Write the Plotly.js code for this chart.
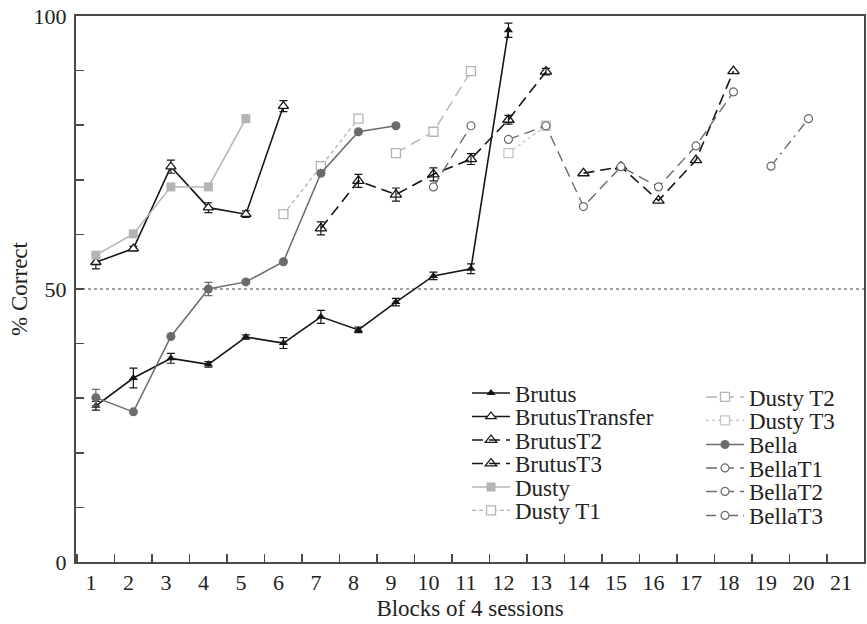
<!DOCTYPE html>
<html>
<head>
<meta charset="utf-8">
<script src="https://cdn.plot.ly/plotly-3.0.1.min.js"></script>
<style>html,body{margin:0;padding:0;background:#fff;}#chart{width:867px;height:624px;}</style>
</head>
<body>
<div id="chart"></div>
<script>
// ---- data ----
var brutusX = [1,2,3,4,5,6,7,8,9,10,11,12];
var brutusY = [28.6,33.7,37.3,36.2,41.2,40.1,44.9,42.5,47.6,52.4,53.7,97.4];
var brutusErr = [0.8,1.8,0.9,0.5,0.4,1.0,1.2,0.5,0.7,0.7,0.9,1.3];

var brutusTransferX = [1,2,3,4,5,6];
var brutusTransferY = [54.9,57.4,72.4,64.9,63.7,83.5];
var brutusTransferErr = [1.2,0.4,1.2,0.9,0.6,1.0];

var brutusT2X = [7,8,9,10,11,12,13];
var brutusT2Y = [61.1,69.8,67.3,71.0,73.8,81.0,89.8];
var brutusT2Err = [1.2,1.2,1.2,1.2,1.0,0.8,0.6];

var brutusT3X = [14,15,16,17,18];
var brutusT3Y = [71.2,72.4,66.2,73.6,89.9];

var dustyX = [1,2,3,4,5];
var dustyY = [56.2,60.1,68.7,68.7,81.2];

var dustyT1X = [6,7,8];
var dustyT1Y = [63.7,72.5,81.2];

var dustyT2X = [9,10,11];
var dustyT2Y = [74.9,78.8,89.9];

var dustyT3X = [12,13];
var dustyT3Y = [74.9,79.9];

var bellaX = [1,2,3,4,5,6,7,8,9];
var bellaY = [30.1,27.5,41.3,50.0,51.3,55.0,71.2,78.8,79.9];
var bellaErr = [1.5,null,null,1.2,null,null,null,null,null];

var bellaT1X = [10,11];
var bellaT1Y = [68.7,79.9];

var bellaT2X = [12,13,14,15,16,17,18];
var bellaT2Y = [77.4,79.9,65.1,72.4,68.7,76.2,86.1];

var bellaT3X = [19,20];
var bellaT3Y = [72.5,81.2];

var xTickVals = [1,2,3,4,5,6,7,8,9,10,11,12,13,14,15,16,17,18,19,20,21];
var xTickText = ["1","2","3","4","5","6","7","8","9","10","11","12","13","14","15","16","17","18","19","20","21"];
var yTickVals = [0,10,20,30,40,50,60,70,80,90,100];
var yTickText = ["0","","","","","50","","","","","100"];
var chanceLevel = 50;

// ---- styling ----
var FONT = "Liberation Serif, Times New Roman, serif";
var BLACK = "#161616", DGRAY = "#6b6b6b", LGRAY = "#b4b4b4", LGRAY2 = "#c4c4c4";

function eb(arr, color) {
  return {type: "data", array: arr, visible: true, color: color, thickness: 1.2, width: 4};
}

var traces = [
  {name: "Brutus", x: brutusX, y: brutusY, error_y: eb(brutusErr, BLACK),
   line: {color: BLACK, width: 1.6}, marker: {symbol: "triangle-up", size: 8, color: BLACK}, legend: "legend"},
  {name: "BrutusTransfer", x: brutusTransferX, y: brutusTransferY, error_y: eb(brutusTransferErr, BLACK),
   line: {color: BLACK, width: 1.6}, marker: {symbol: "triangle-up", size: 9, color: "#fff", line: {color: BLACK, width: 1.3}}, legend: "legend2"},
  {name: "BrutusT2", x: brutusT2X, y: brutusT2Y, error_y: eb(brutusT2Err, BLACK),
   line: {color: BLACK, width: 1.6, dash: "11px,6px"}, marker: {symbol: "triangle-up-open", size: 10, color: BLACK, line: {width: 1.3}}, legend: "legend3"},
  {name: "BrutusT3", x: brutusT3X, y: brutusT3Y,
   line: {color: BLACK, width: 1.6, dash: "11px,6px"}, marker: {symbol: "triangle-up-open", size: 10, color: BLACK, line: {width: 1.3}}, legend: "legend4"},
  {name: "Dusty", x: dustyX, y: dustyY,
   line: {color: LGRAY, width: 1.5}, marker: {symbol: "square", size: 9, color: LGRAY}, legend: "legend5"},
  {name: "Dusty T1", x: dustyT1X, y: dustyT1Y,
   line: {color: LGRAY, width: 1.3, dash: "4px,3px"}, marker: {symbol: "square", size: 9, color: "#fff", line: {color: LGRAY, width: 1.3}}, legend: "legend6"},
  {name: "Dusty T2", x: dustyT2X, y: dustyT2Y,
   line: {color: LGRAY, width: 1.4, dash: "11px,6px"}, marker: {symbol: "square", size: 9, color: "#fff", line: {color: LGRAY, width: 1.3}}, legend: "legend7"},
  {name: "Dusty T3", x: dustyT3X, y: dustyT3Y,
   line: {color: LGRAY2, width: 1.3, dash: "3px,3px"}, marker: {symbol: "square", size: 9, color: "#fff", line: {color: LGRAY2, width: 1.3}}, legend: "legend8"},
  {name: "Bella", x: bellaX, y: bellaY, error_y: eb(bellaErr, DGRAY),
   line: {color: DGRAY, width: 1.5}, marker: {symbol: "circle", size: 9, color: DGRAY}, legend: "legend9"},
  {name: "BellaT1", x: bellaT1X, y: bellaT1Y,
   line: {color: DGRAY, width: 1.4, dash: "11px,6px"}, marker: {symbol: "circle", size: 8, color: "#fff", line: {color: DGRAY, width: 1.2}}, legend: "legend10"},
  {name: "BellaT2", x: bellaT2X, y: bellaT2Y,
   line: {color: DGRAY, width: 1.4, dash: "11px,6px"}, marker: {symbol: "circle", size: 8, color: "#fff", line: {color: DGRAY, width: 1.2}}, legend: "legend11"},
  {name: "BellaT3", x: bellaT3X, y: bellaT3Y,
   line: {color: DGRAY, width: 1.4, dash: "10px,5px,2px,5px"}, marker: {symbol: "circle", size: 8, color: "#fff", line: {color: DGRAY, width: 1.2}}, legend: "legend12"}
];
traces.forEach(function (t) { t.type = "scatter"; t.mode = "lines+markers"; });

var W = 867, H = 624, ML = 76, MR = 3, MT = 16, MB = 62;
var PW = W - ML - MR, PH = H - MT - MB;
function px2x(px) { return (px - ML) / PW; }
function py2y(py) { return (H - MB - py) / PH; }

// legend row positions (pixels)
var col1X = 467, col2X = 701;
var col1Y = [393, 416.5, 440, 463.5, 487, 510.5];
var col2Y = [397, 420.5, 444.5, 468, 491.5, 515.5];

var layout = {
  width: W, height: H,
  margin: {l: ML, r: MR, t: MT, b: MB, pad: 0},
  paper_bgcolor: "#fff", plot_bgcolor: "#fff",
  font: {family: FONT, size: 21, color: "#222"},
  showlegend: true,
  xaxis: {
    range: [0.47, 21.48], showgrid: false, zeroline: false,
    showline: true, linecolor: "#4a4a4a", linewidth: 2, mirror: true,
    tickmode: "array", tickvals: xTickVals, ticktext: xTickText,
    ticks: "inside", ticklen: 0, ticklabelshift: -5,
    tickfont: {family: FONT, size: 22, color: "#222"},
    minor: {tickmode: "linear", tick0: 0.5, dtick: 1, ticks: "inside", ticklen: 8, tickwidth: 1.5, tickcolor: "#4a4a4a", showgrid: false},
    title: {text: "Blocks of 4 sessions", font: {family: FONT, size: 23, color: "#222"}, standoff: 5}
  },
  yaxis: {
    range: [0, 100], showgrid: false, zeroline: false,
    showline: true, linecolor: "#4a4a4a", linewidth: 2, mirror: true,
    tickmode: "array", tickvals: yTickVals, ticktext: yTickText,
    ticks: "inside", ticklen: 8, tickwidth: 1.5, tickcolor: "#4a4a4a",
    ticklabelstandoff: 3,
    tickfont: {family: FONT, size: 22, color: "#222"},
    title: {text: "% Correct", font: {family: FONT, size: 23, color: "#222"}, standoff: 0}
  },
  shapes: [{type: "line", xref: "paper", x0: 0, x1: 1, yref: "y", y0: chanceLevel, y1: chanceLevel,
            line: {color: "#444", width: 1.2, dash: "3px,3px"}, layer: "below"}]
};

var legendNames = ["legend","legend2","legend3","legend4","legend5","legend6","legend7","legend8","legend9","legend10","legend11","legend12"];
legendNames.forEach(function (ln, i) {
  var col = i < 6 ? 0 : 1, row = i % 6;
  layout[ln] = {
    x: px2x(col === 0 ? col1X : col2X), y: py2y(col === 0 ? col1Y[row] : col2Y[row]),
    xref: "paper", yref: "paper", xanchor: "left", yanchor: "middle",
    bgcolor: "rgba(0,0,0,0)", borderwidth: 0,
    font: {family: FONT, size: 23, color: "#222"},
    itemwidth: 38, tracegroupgap: 0
  };
});

Plotly.newPlot("chart", traces, layout, {displayModeBar: false, staticPlot: true});
</script>
</body>
</html>
